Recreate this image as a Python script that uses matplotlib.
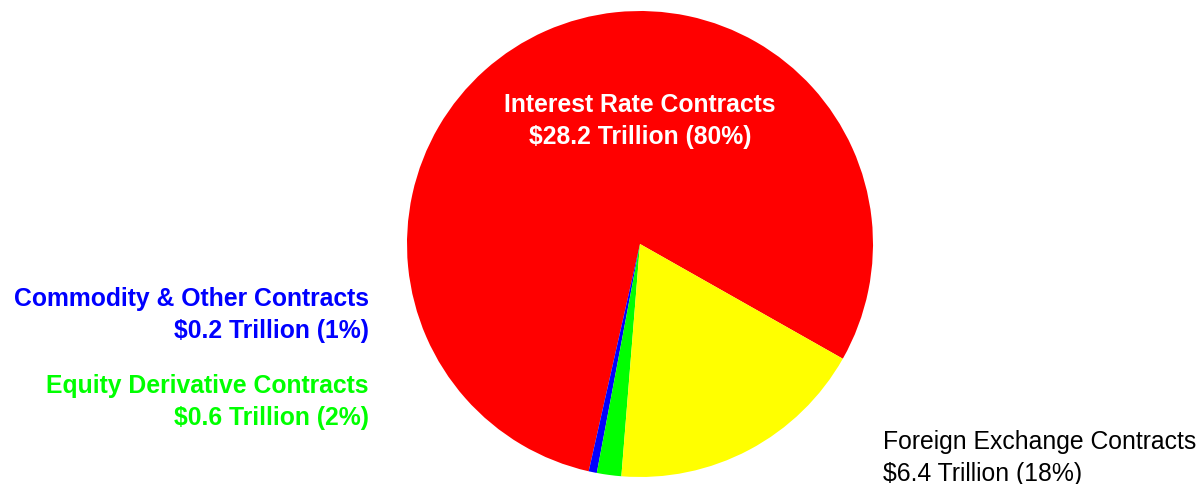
import matplotlib
matplotlib.use("Agg")
import matplotlib.pyplot as plt

# contract categories (counter-clockwise order in the pie)
categories = ["Interest Rate Contracts", "Commodity & Other Contracts",
              "Equity Derivative Contracts", "Foreign Exchange Contracts"]
values = [28.2, 0.2, 0.6, 6.4]          # trillions of dollars
percents = [80, 1, 2, 18]
colors = ["#ff0000", "#0000ff", "#00ff00", "#ffff00"]

plt.rcParams["font.family"] = ["Liberation Sans", "DejaVu Sans"]

W, H = 1204, 485
fig = plt.figure(figsize=(W / 100, H / 100), dpi=100)

# pie centre ~(640, 245) px, radius ~233 px
cx, cy, r = 640, 245, 233
ax = fig.add_axes([(cx - r) / W, (H - cy - r) / H, 2 * r / W, 2 * r / H])
ax.pie(values, colors=colors, startangle=-29.5, counterclock=True,
       radius=1.0, wedgeprops=dict(linewidth=0))
ax.set_xlim(-1, 1)
ax.set_ylim(-1, 1)
ax.set_aspect("equal")
ax.axis("off")


def label(i):
    return f"{categories[i]}\n${values[i]:.1f} Trillion ({percents[i]}%)"


def px(x, y):
    return x / W, 1 - y / H


fs = 17.8
ls = 1.43
# interest rate label inside the red slice
fig.text(*px(640, 121), label(0), color="white", fontsize=fs, fontweight="bold",
         ha="center", va="center", linespacing=ls)
# commodity, left side
fig.text(*px(369, 315), label(1), color=colors[1], fontsize=fs, fontweight="bold",
         ha="right", va="center", linespacing=ls)
# equity, left side
fig.text(*px(369, 402), label(2), color=colors[2], fontsize=fs, fontweight="bold",
         ha="right", va="center", linespacing=ls)
# foreign exchange, lower right
fig.text(*px(883, 458), label(3), color="black", fontsize=fs,
         ha="left", va="center", linespacing=ls)

fig.savefig("out.png", dpi=100)
